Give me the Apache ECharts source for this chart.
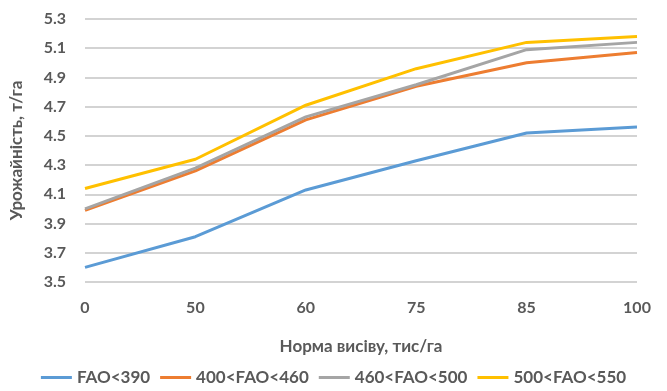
<!DOCTYPE html>
<html>
<head>
<meta charset="utf-8">
<script src="https://cdn.jsdelivr.net/npm/echarts@6/dist/echarts.min.js"></script>
<style>
  html, body { margin: 0; padding: 0; background: #fff; }
  #chart { width: 667px; height: 391px; }
</style>
</head>
<body>
<div id="chart"></div>
<script>
// норма висіву, тис/га
const categories = ['0', '50', '60', '75', '85', '100'];
const seriesNames = ['FAO<390', '400<FAO<460', '460<FAO<500', '500<FAO<550'];
const fao390 = [3.60, 3.81, 4.13, 4.33, 4.52, 4.56];
const fao400_460 = [3.99, 4.26, 4.61, 4.84, 5.00, 5.07];
const fao460_500 = [4.00, 4.28, 4.63, 4.85, 5.09, 5.14];
const fao500_550 = [4.14, 4.34, 4.71, 4.96, 5.14, 5.18];
const colors = ['#5b9bd5', '#ed7d31', '#a5a5a5', '#ffc000'];

const font = 'Lato, "Open Sans", sans-serif';
const chart = echarts.init(document.getElementById('chart'), null, { renderer: 'canvas' });

const values = [fao390, fao400_460, fao460_500, fao500_550];

chart.setOption({
  animation: false,
  color: colors,
  textStyle: { fontFamily: font },
  grid: { left: 82, right: 30, top: 19, bottom: 109 },
  legend: {
    bottom: 0,
    left: 'center',
    icon: 'rect',
    itemWidth: 31,
    itemHeight: 3,
    itemGap: 10,
    textStyle: { color: '#595959', fontSize: 17, fontWeight: 'bold', fontFamily: font },
    data: seriesNames
  },
  xAxis: {
    type: 'category',
    data: categories,
    boundaryGap: false,
    name: 'Норма висіву, тис/га',
    nameLocation: 'middle',
    nameGap: 56,
    nameTextStyle: { color: '#595959', fontSize: 17, fontWeight: 'bold' },
    axisLine: { show: false },
    axisTick: { show: false },
    axisLabel: { color: '#595959', fontSize: 16, fontWeight: 'bold', margin: 18 }
  },
  yAxis: {
    type: 'value',
    min: 3.5,
    max: 5.3,
    interval: 0.2,
    name: 'Урожайність, т/га',
    nameLocation: 'middle',
    nameGap: 60,
    nameTextStyle: { color: '#595959', fontSize: 17, fontWeight: 'bold' },
    axisLine: { show: false },
    axisTick: { show: false },
    axisLabel: {
      color: '#595959', fontSize: 16, fontWeight: 'bold', margin: 19,
      formatter: v => v.toFixed(1)
    },
    splitLine: { lineStyle: { color: '#c4c4c4', width: 1.5 } }
  },
  series: seriesNames.map((name, i) => ({
    name,
    type: 'line',
    data: values[i],
    showSymbol: false,
    symbol: 'none',
    lineStyle: { width: 3, color: colors[i] },
    itemStyle: { color: colors[i] }
  }))
});
</script>
</body>
</html>
